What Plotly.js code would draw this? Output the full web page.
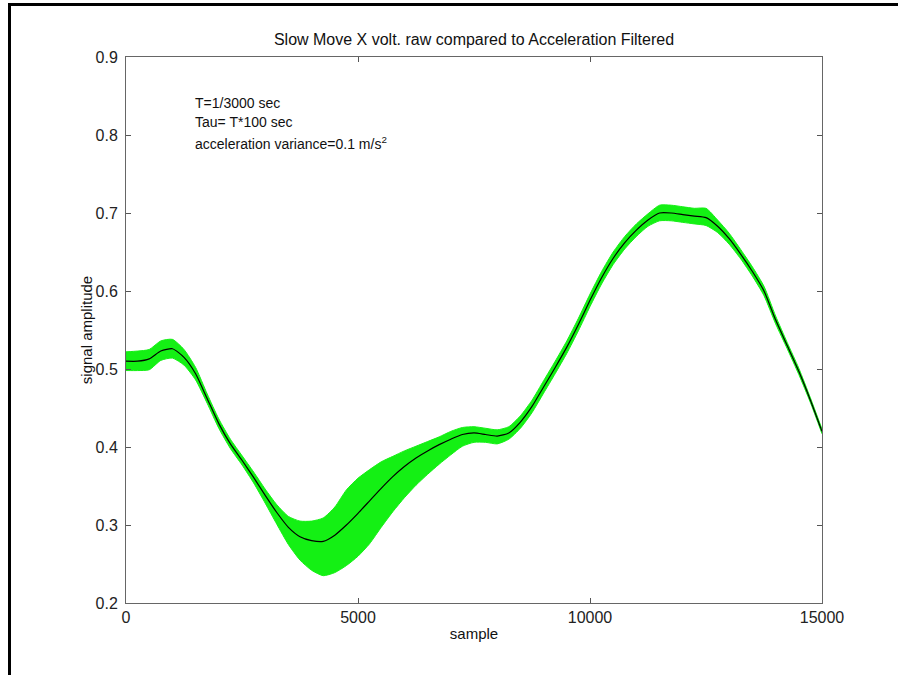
<!DOCTYPE html>
<html>
<head>
<meta charset="utf-8">
<script src="https://cdn.plot.ly/plotly-3.0.1.min.js"></script>
<style>
  html, body { margin: 0; padding: 0; background: #ffffff; overflow: hidden; }
  #wrap { position: relative; width: 898px; height: 675px; overflow: hidden; }
  #chart { width: 898px; height: 675px; }
  #frame { position: absolute; left: 8px; top: 3px; width: 900px; height: 700px;
           border-left: 3px solid #000; border-top: 3px solid #000; pointer-events: none; }
</style>
</head>
<body>
<div id="wrap"><div id="chart"></div><div id="frame"></div></div>
<script>
// sample index (every 250 samples)
const samples = [
  0, 250, 500, 750, 1000, 1250, 1500, 1750, 2000, 2250,
  2500, 2750, 3000, 3250, 3500, 3750, 4000, 4250, 4500, 4750,
  5000, 5250, 5500, 5750, 6000, 6250, 6500, 6750, 7000, 7250,
  7500, 7750, 8000, 8250, 8500, 8750, 9000, 9250, 9500, 9750,
  10000, 10250, 10500, 10750, 11000, 11250, 11500, 11750, 12000, 12250,
  12500, 12750, 13000, 13250, 13500, 13750, 14000, 14250, 14500, 14750,
  15000
];

// acceleration-filtered signal (black line)
const filtered = [
  0.510, 0.510, 0.513, 0.523, 0.526, 0.515, 0.494, 0.462, 0.430, 0.404,
  0.383, 0.361, 0.338, 0.316, 0.297, 0.285, 0.280, 0.279, 0.287, 0.300,
  0.315, 0.331, 0.347, 0.362, 0.375, 0.386, 0.395, 0.403, 0.410, 0.416,
  0.418, 0.416, 0.414, 0.418, 0.432, 0.452, 0.477, 0.502, 0.528, 0.557,
  0.588, 0.617, 0.642, 0.662, 0.678, 0.691, 0.700, 0.700, 0.698, 0.696,
  0.694, 0.683, 0.667, 0.647, 0.625, 0.600, 0.563, 0.530, 0.497, 0.460,
  0.420
];

// raw X voltage (green, noisy) - upper envelope of the noise band
const rawUpper = [
  0.522, 0.523, 0.525, 0.536, 0.538, 0.525, 0.502, 0.468, 0.436, 0.410,
  0.389, 0.368, 0.346, 0.326, 0.311, 0.305, 0.305, 0.309, 0.323, 0.345,
  0.360, 0.371, 0.381, 0.388, 0.395, 0.401, 0.407, 0.413, 0.420, 0.425,
  0.426, 0.424, 0.422, 0.426, 0.440, 0.460, 0.485, 0.510, 0.536, 0.565,
  0.596, 0.625, 0.650, 0.670, 0.686, 0.699, 0.710, 0.710, 0.708, 0.706,
  0.706, 0.691, 0.674, 0.653, 0.631, 0.606, 0.568, 0.534, 0.501, 0.463,
  0.423
];

// raw X voltage (green, noisy) - lower envelope of the noise band
const rawLower = [
  0.498, 0.498, 0.499, 0.511, 0.514, 0.505, 0.486, 0.456, 0.424, 0.398,
  0.377, 0.354, 0.328, 0.301, 0.275, 0.255, 0.242, 0.235, 0.239, 0.248,
  0.260, 0.276, 0.297, 0.317, 0.335, 0.351, 0.365, 0.378, 0.390, 0.401,
  0.406, 0.406, 0.404, 0.410, 0.424, 0.444, 0.469, 0.494, 0.520, 0.549,
  0.580, 0.609, 0.634, 0.654, 0.670, 0.683, 0.690, 0.690, 0.688, 0.686,
  0.684, 0.675, 0.660, 0.641, 0.619, 0.594, 0.558, 0.526, 0.493, 0.457,
  0.417
];

const xTicks = [0, 5000, 10000, 15000];
const yTicks = [0.2, 0.3, 0.4, 0.5, 0.6, 0.7, 0.8, 0.9];

const GREEN = '#14f014';
const FONT = 'Liberation Sans, Arial, sans-serif';

const traces = [
  {
    x: samples, y: rawLower, type: 'scatter', mode: 'lines',
    line: { color: GREEN, width: 1, shape: 'spline', smoothing: 0.6 },
    showlegend: false, hoverinfo: 'skip', name: 'raw (low)'
  },
  {
    x: samples, y: rawUpper, type: 'scatter', mode: 'lines',
    fill: 'tonexty', fillcolor: GREEN,
    line: { color: GREEN, width: 1, shape: 'spline', smoothing: 0.6 },
    showlegend: false, hoverinfo: 'skip', name: 'raw'
  },
  {
    x: samples, y: filtered, type: 'scatter', mode: 'lines',
    line: { color: '#000000', width: 1.2, shape: 'spline', smoothing: 0.6 },
    showlegend: false, name: 'filtered'
  }
];

const L = 126, R = 822, T = 57, B = 603, W = 898, H = 675;
const px2x = p => (p - L) / (R - L);
const py2y = p => (B - p) / (B - T);

const layout = {
  width: W, height: H,
  margin: { l: L, r: W - R, t: T, b: H - B, pad: 0 },
  paper_bgcolor: '#ffffff',
  plot_bgcolor: '#ffffff',
  showlegend: false,
  font: { family: FONT, color: '#111111', size: 14 },
  title: {
    text: 'Slow Move X volt. raw compared to Acceleration Filtered',
    font: { family: FONT, size: 16, color: '#111111' },
    xref: 'paper', x: 0.5, xanchor: 'center',
    yref: 'container', y: 1 - 39 / H, yanchor: 'middle'
  },
  xaxis: {
    range: [0, 15000],
    tickvals: xTicks, ticktext: xTicks.map(String),
    ticks: 'inside', ticklen: 5, tickcolor: '#555555', tickwidth: 1,
    showline: true, linecolor: '#666666', linewidth: 1, mirror: 'ticks',
    showgrid: false, zeroline: false, automargin: false,
    tickfont: { family: FONT, size: 16, color: '#222222' },
    title: { text: 'sample', font: { family: FONT, size: 15, color: '#111111' }, standoff: 0 }
  },
  yaxis: {
    range: [0.2, 0.9],
    tickvals: yTicks, ticktext: yTicks.map(v => v.toFixed(1)),
    ticks: 'inside', ticklen: 5, tickcolor: '#555555', tickwidth: 1,
    showline: true, linecolor: '#666666', linewidth: 1, mirror: 'ticks',
    showgrid: false, zeroline: false, automargin: false,
    ticklabelstandoff: 4,
    tickfont: { family: FONT, size: 16, color: '#222222' },
    title: { text: 'signal amplitude', font: { family: FONT, size: 15, color: '#111111' }, standoff: 4 }
  },
  annotations: [
    { text: 'T=1/3000 sec', xref: 'paper', yref: 'paper', x: px2x(193), y: py2y(103),
      xanchor: 'left', yanchor: 'middle', showarrow: false, font: { family: FONT, size: 14, color: '#111111' } },
    { text: 'Tau= T*100 sec', xref: 'paper', yref: 'paper', x: px2x(193), y: py2y(122),
      xanchor: 'left', yanchor: 'middle', showarrow: false, font: { family: FONT, size: 14, color: '#111111' } },
    { text: 'acceleration variance=0.1 m/s<sup>2</sup>', xref: 'paper', yref: 'paper', x: px2x(193), y: py2y(143),
      xanchor: 'left', yanchor: 'middle', showarrow: false, font: { family: FONT, size: 14, color: '#111111' } }
  ]
};

Plotly.newPlot('chart', traces, layout, { displayModeBar: false, staticPlot: true }).then(gd => {
  // nudge axis titles to the reference positions
  const xt = gd.querySelector('.g-xtitle text');
  if (xt) {
    const bb = xt.getBBox();
    const cy = bb.y + bb.height / 2;
    xt.setAttribute('transform', 'translate(0,' + (634 - cy) + ')');
  }
  const yt = gd.querySelector('.g-ytitle text');
  if (yt) {
    const r = yt.getBoundingClientRect();
    const cx = r.left + r.width / 2;
    const cur = yt.getAttribute('transform') || '';
    yt.setAttribute('transform', 'translate(' + (86 - cx) + ',0) ' + cur);
  }
});
</script>
</body>
</html>
